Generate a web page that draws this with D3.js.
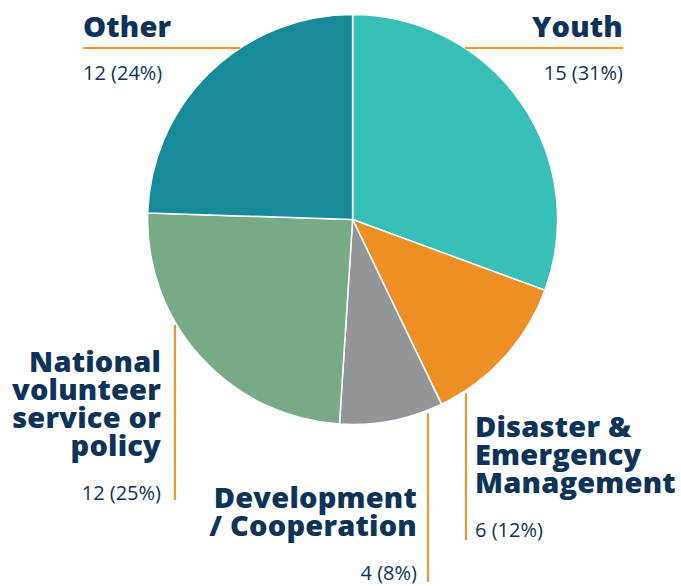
<!DOCTYPE html>
<html>
<head>
<meta charset="utf-8">
<script src="https://cdn.jsdelivr.net/npm/d3@7"></script>
<style>
  body { margin: 0; background: #fff; }
  svg { display: block; }
</style>
</head>
<body>
<svg id="chart"></svg>
<script>
// chart data
const categories = ['Youth', 'Disaster & Emergency Management', 'Development / Cooperation', 'National volunteer service or policy', 'Other'];
const values = [15, 6, 4, 12, 12];
const percents = ['31%', '12%', '8%', '25%', '24%'];
const labelLines = [
    ['Youth'],
    ['Disaster &', 'Emergency', 'Management'],
    ['Development', '/ Cooperation'],
    ['National', 'volunteer', 'service or', 'policy'],
    ['Other']
];
const colors = ['#38bfb8', '#ee8f26', '#939598', '#77aa86', '#168a99'];

const width = 681, height = 586;
const cx = 352.6, cy = 219.5, radius = 205;
const textColor = '#0d3358';
const lineColor = '#f0962f';

// label layout: anchor x, text-anchor, first title baseline, value baseline, leader line
const layout = [
    {x: 623, anchor: 'end', y: 37, vy: 80, line: {type: 'h', y: 48, x: 623}},
    {x: 475, anchor: 'start', y: 437, vy: 537, line: {type: 'v', x: 466, y: 540}},
    {x: 417, anchor: 'end', y: 508, vy: 580, line: {type: 'v', x: 428, y: 582}},
    {x: 161, anchor: 'end', y: 372, vy: 500, line: {type: 'v', x: 175, y: 500}},
    {x: 83, anchor: 'start', y: 37, vy: 80, line: {type: 'h', y: 48, x: 83}}
];

const svg = d3.select('#chart')
    .attr('width', width)
    .attr('height', height);

const data = categories.map((c, i) => ({name: c, value: values[i], pct: percents[i], i: i}));

const pie = d3.pie()
    .sort(null)
    .value(d => d.value);

const arc = d3.arc()
    .innerRadius(0)
    .outerRadius(radius);

const g = svg.append('g')
    .attr('transform', `translate(${cx},${cy})`);

//slices
g.selectAll('path')
    .data(pie(data))
    .join('path')
    .attr('d', arc)
    .attr('fill', d => colors[d.data.i])
    .attr('stroke', '#fff')
    .attr('stroke-width', 1.5);

//leader lines - end where they meet the pie edge
layout.forEach((l, i) => {
    const ln = l.line;
    let x1, y1, x2, y2;
    if (ln.type === 'h') {
        const dy = ln.y - cy;
        const dx = Math.sqrt(radius * radius - dy * dy);
        x1 = ln.x;
        x2 = ln.x < cx ? cx - dx : cx + dx;
        y1 = y2 = ln.y;
    } else {
        const dx = ln.x - cx;
        const dy = Math.sqrt(radius * radius - dx * dx);
        x1 = x2 = ln.x;
        y1 = cy + dy + 3;
        y2 = ln.y;
    }
    svg.append('line')
        .attr('x1', x1).attr('y1', y1)
        .attr('x2', x2).attr('y2', y2)
        .attr('stroke', lineColor)
        .attr('stroke-width', 2.2);
});

//labels
data.forEach((d, i) => {
    const l = layout[i];
    const t = svg.append('text')
        .attr('x', l.x)
        .attr('y', l.y)
        .attr('text-anchor', l.anchor)
        .attr('fill', textColor)
        .style('font-family', '"Open Sans", sans-serif')
        .style('font-weight', 800)
        .style('font-size', '29px')
        .style('letter-spacing', '0.2px');
    labelLines[i].forEach((s, k) => {
        t.append('tspan')
            .attr('x', l.x)
            .attr('y', l.y + k * 28)
            .text(s);
    });
    svg.append('text')
        .attr('x', l.x)
        .attr('y', l.vy)
        .attr('text-anchor', l.anchor)
        .attr('fill', textColor)
        .style('font-family', '"Open Sans", sans-serif')
        .style('font-size', '20px')
        .text(`${d.value} (${d.pct})`);
});
</script>
</body>
</html>
